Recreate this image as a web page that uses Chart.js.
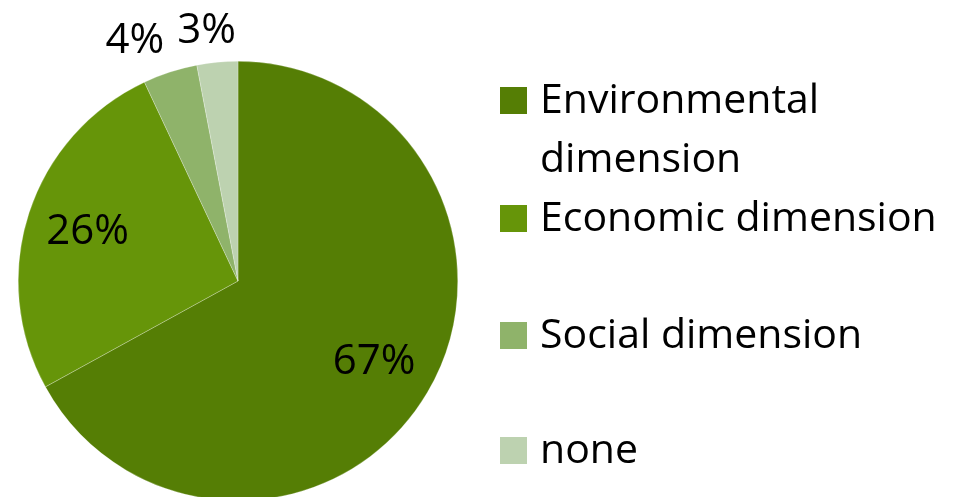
<!DOCTYPE html>
<html>
<head>
<meta charset="utf-8">
<script src="https://cdn.jsdelivr.net/npm/chart.js@4"></script>
<style>
    html, body { margin: 0; padding: 0; background: #fff; overflow: hidden; }
    #wrap { position: relative; width: 953px; height: 510px; }
    #legend {
        position: absolute; left: 500px; top: 68px; width: 450px;
        font-family: "Open Sans", sans-serif; font-size: 41px; line-height: 59px; color: #000;
    }
    .item { position: relative; padding-left: 40px; }
    .item:nth-child(3) { margin-top: 58px; }
    .item:nth-child(4) { margin-top: 56px; }
    .box { position: absolute; left: 0; top: 19px; width: 27px; height: 27px; }
</style>
</head>
<body>
<div id="wrap">
    <canvas id="pieChart" width="953" height="510"></canvas>
    <div id="legend"></div>
</div>
<script>
const labels = ["Environmental dimension", "Economic dimension", "Social dimension", "none"];
const shares = [67, 26, 4, 3];
const colors = ["#557e05", "#669509", "#8fb36a", "#bdd2b0"];

// percentage labels: inside for big slices, just above the rim for thin ones
const sliceLabels = {
    id: "sliceLabels",
    afterDatasetsDraw(chart) {
        const ctx = chart.ctx;
        const meta = chart.getDatasetMeta(0);
        const data = chart.data.datasets[0].data;
        const total = data.reduce((a, b) => a + b, 0);
        ctx.save();
        ctx.font = "42px 'Open Sans', sans-serif";
        ctx.fillStyle = "#000";
        ctx.textAlign = "center";
        meta.data.forEach((arc, i) => {
            const p = arc.getProps(["x", "y", "startAngle", "endAngle", "outerRadius"], true);
            const frac = data[i] / total;
            const mid = (p.startAngle + p.endAngle) / 2;
            const text = Math.round(frac * 100) + "%";
            if (frac < 0.05) {
                const r = p.outerRadius * 1.09;
                const w = ctx.measureText(text).width;
                ctx.textBaseline = "alphabetic";
                ctx.fillText(text, p.x + Math.cos(mid) * r + Math.cos(mid) * w * 1.6, p.y + Math.sin(mid) * r);
            } else {
                const r = p.outerRadius * 0.72;
                ctx.textBaseline = "middle";
                ctx.fillText(text, p.x + Math.cos(mid) * r, p.y + Math.sin(mid) * r);
            }
        });
        ctx.restore();
    }
};

const pie = document.getElementById("pieChart").getContext("2d");
new Chart(pie, {
    type: "pie",
    data: {
        labels: labels,
        datasets: [
            {
                data: shares,
                backgroundColor: colors,
                borderColor: "rgba(255,255,255,0.5)",
                borderWidth: 0.5,
                hoverOffset: 0,
            },
        ],
    },
    options: {
        responsive: false,
        animation: false,
        events: [],
        layout: { padding: { left: 18, right: 495, top: 61, bottom: 9 } },
        plugins: {
            legend: { display: false },
            tooltip: { enabled: false },
        },
    },
    plugins: [sliceLabels],
});

// legend beside the pie
const legend = document.getElementById("legend");
labels.forEach((label, i) => {
    const item = document.createElement("div");
    item.className = "item";
    item.innerHTML = `<span class="box" style="background:${colors[i]}"></span>${label}`;
    legend.appendChild(item);
});
</script>
</body>
</html>
